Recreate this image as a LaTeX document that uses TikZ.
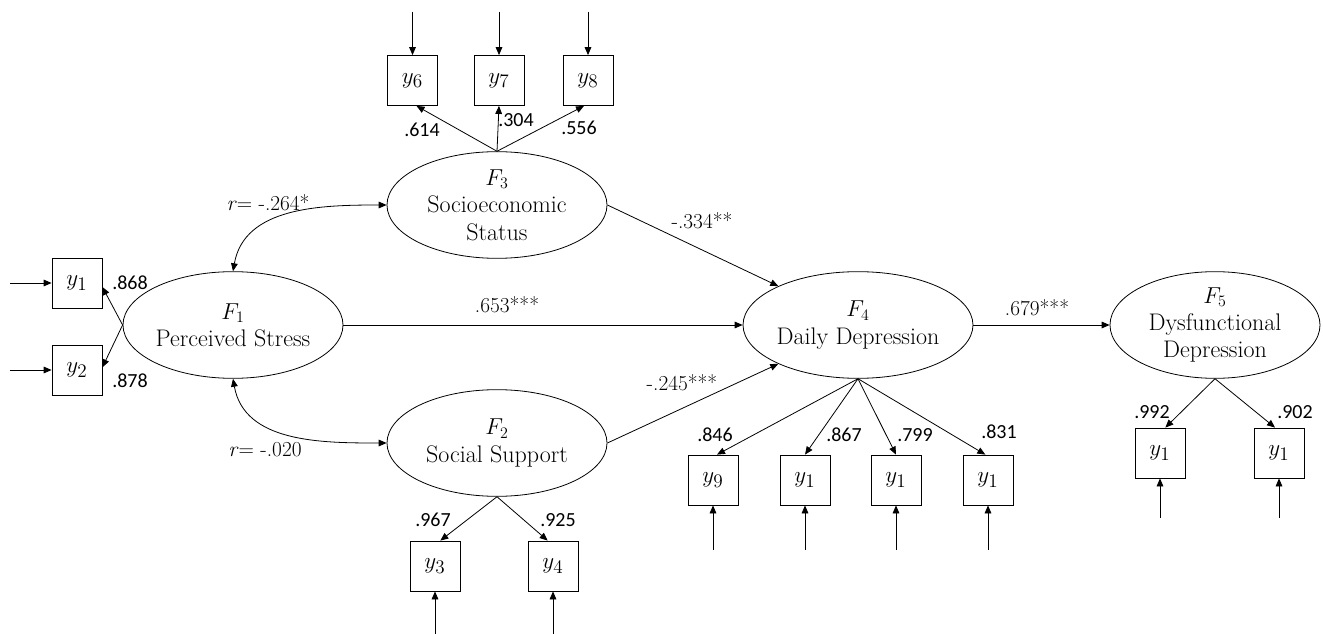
\documentclass[tikz,border=0pt]{standalone}
\usepackage{fontspec}
\newfontfamily\numfont{Carlito}
\usetikzlibrary{arrows.meta,shapes.geometric}
\begin{document}
\begin{tikzpicture}[x=0.75pt,y=-0.75pt,
 lat/.style={draw, ellipse, line width=0.6pt, minimum width=165pt, minimum height=80pt, inner sep=0pt, align=center, font=\rmfamily\fontsize{18}{20.5}\selectfont},
 obs/.style={draw, line width=0.6pt, minimum size=37.5pt, inner sep=0pt, font=\fontsize{19}{21}\selectfont},
 arr/.style={-{Triangle[length=6pt,width=5pt]}, line width=0.6pt},
 biarr/.style={{Triangle[length=6pt,width=5pt]}-{Triangle[length=6pt,width=5pt]}, line width=0.6pt},
 num/.style={font=\numfont\fontsize{15}{18}\selectfont, inner sep=1pt},
 coef/.style={font=\rmfamily\fontsize{16}{18}\selectfont, inner sep=1pt}]
\useasboundingbox (0,0) rectangle (1323,634);

% latent variables
\node[lat] (F1) at (233,325) {$F_1$\\Perceived Stress};
\node[lat] (F3) at (497,205) {$F_3$\\Socioeconomic\\Status};
\node[lat] (F2) at (497,443) {$F_2$\\Social Support};
\node[lat] (F4) at (858,325) {$F_4$\\Daily Depression};
\node[lat, minimum width=157.5pt] (F5) at (1215,325) {$F_5$\\Dysfunctional\\Depression};

% observed variables
\node[obs] (y6) at (412.5,80.5) {$y_6$};
\node[obs] (y7) at (499,80.5) {$y_7$};
\node[obs] (y8) at (588,80.5) {$y_8$};
\node[obs] (y1) at (77,283) {$y_1$};
\node[obs] (y2) at (77,370) {$y_2$};
\node[obs] (y3) at (435,566) {$y_3$};
\node[obs] (y4) at (553,566) {$y_4$};
\node[obs] (y9) at (713,480) {$y_9$};
\node[obs] (b10) at (805,480) {$y_1$};
\node[obs] (b11) at (896,480) {$y_1$};
\node[obs] (b12) at (988,480) {$y_1$};
\node[obs] (b13) at (1160,453) {$y_1$};
\node[obs] (b14) at (1279,453) {$y_1$};

% error terms
\coordinate (e6) at (412.5,12);
\coordinate (e7) at (499,12);
\coordinate (e8) at (588,12);
\coordinate (e1) at (10,283);
\coordinate (e2) at (10,370);
\coordinate (e3) at (435,634);
\coordinate (e4) at (553,634);
\coordinate (e9) at (713,550);
\coordinate (e10) at (805,550);
\coordinate (e11) at (896,550);
\coordinate (e12) at (988,550);
\coordinate (e13) at (1160,518);
\coordinate (e14) at (1279,518);
\draw[arr] (e6) -- (y6);
\draw[arr] (e7) -- (y7);
\draw[arr] (e8) -- (y8);
\draw[arr] (e1) -- (y1);
\draw[arr] (e2) -- (y2);
\draw[arr] (e3) -- (y3);
\draw[arr] (e4) -- (y4);
\draw[arr] (e9) -- (y9);
\draw[arr] (e10) -- (b10);
\draw[arr] (e11) -- (b11);
\draw[arr] (e12) -- (b12);
\draw[arr] (e13) -- (b13);
\draw[arr] (e14) -- (b14);

% loadings
\draw[arr] (F3.north) -- ([xshift=3pt]y6.south);
\draw[arr] (F3.north) -- (y7.south);
\draw[arr] (F3.north) -- ([xshift=-3pt]y8.south);
\node[num] (l6) at (422,130) {.614};
\node[num] (l7) at (516,120) {.304};
\node[num] (l8) at (579,128) {.556};

\draw[arr] (F1.west) -- ([yshift=-3pt]y1.east);
\draw[arr] (F1.west) -- ([yshift=2pt]y2.east);
\node[num] (l1) at (130,283) {.868};
\node[num] (l2) at (130,381) {.878};

\draw[arr] (F2.south) -- ([xshift=4pt]y3.north);
\draw[arr] (F2.south) -- ([xshift=-4pt]y4.north);
\node[num] (l3) at (433,520) {.967};
\node[num] (l4) at (558,520) {.925};

\draw[arr] (F4.south) -- ([xshift=3pt]y9.north);
\draw[arr] (F4.south) -- (b10.north);
\draw[arr] (F4.south) -- (b11.north);
\draw[arr] (F4.south) -- ([xshift=-2pt]b12.north);
\node[num] (l9) at (715,435) {.846};
\node[num] (l10) at (844,435) {.867};
\node[num] (l11) at (915,435) {.799};
\node[num] (l12) at (999,432) {.831};

\draw[arr] (F5.south) -- ([xshift=4pt]b13.north);
\draw[arr] (F5.south) -- ([xshift=-3pt]b14.north);
\node[num] (l13) at (1152,412) {.992};
\node[num] (l14) at (1295,412) {.902};

% correlations
\draw[biarr] (F3.west) to[out=180,in=80] (F1.north);
\draw[biarr] (F2.west) to[out=180,in=-80] (F1.south);
\node[coef] (r1) at (268,203) {\textit{r}= -.264*};
\node[coef] (r2) at (265,450) {\textit{r}= -.020};

% structural paths
\draw[arr] (F3.east) -- (F4.154);
\draw[arr] (F1.east) -- (F4.west);
\draw[arr] (F2.east) -- (F4.206);
\draw[arr] (F4.east) -- (F5.west);
\node[coef] (p34) at (702,221) {-.334**};
\node[coef] (p14) at (507,305) {.653***};
\node[coef] (p24) at (682,383) {-.245***};
\node[coef] (p45) at (1037,308) {.679***};
\end{tikzpicture}
\end{document}
